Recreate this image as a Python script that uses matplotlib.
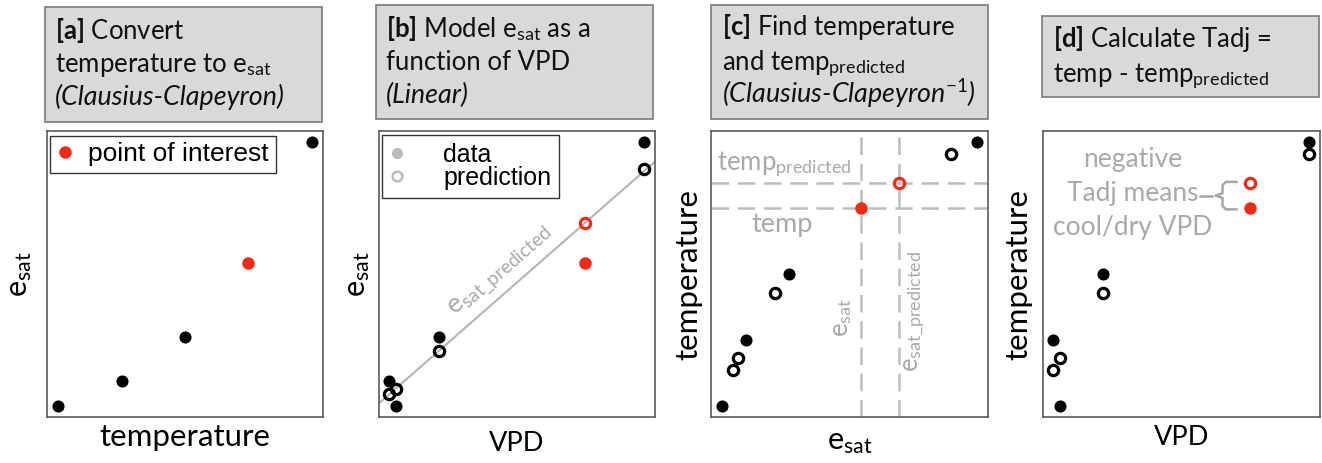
import numpy as np
import matplotlib
matplotlib.use('Agg')
import matplotlib.pyplot as plt
from matplotlib.patches import Rectangle
from matplotlib.lines import Line2D

# ---------------- data (normalised units) ----------------
temperature = [0.04, 0.27, 0.50, 0.73, 0.96]
esat = [0.04, 0.125, 0.28, 0.54, 0.96]
vpd = [0.062, 0.036, 0.217, 0.746, 0.96]
esat_pred = [0.098, 0.08, 0.23, 0.68, 0.867]
temp_pred = [0.206, 0.164, 0.434, 0.818, 0.92]
interest = 3                      # index of the point of interest
fit_vpd = [0.0, 1.0]
fit_esat = [0.048, 0.893]

title_a = [r'$\mathbf{[a]}$ Convert', r'temperature to e$_\mathrm{sat}$', '(Clausius-Clapeyron)']
title_b = [r'$\mathbf{[b]}$ Model e$_\mathrm{sat}$ as a', 'function of VPD', '(Linear)']
title_c = [r'$\mathbf{[c]}$ Find temperature', r'and temp$_\mathrm{predicted}$',
           r'(Clausius-Clapeyron$^{\mathit{-1}}$)']
title_d = [r'$\mathbf{[d]}$ Calculate Tadj =', r'temp - temp$_\mathrm{predicted}$']

# ---------------- style ----------------
plt.rcParams['font.family'] = ['Lato', 'DejaVu Sans']
plt.rcParams['mathtext.fontset'] = 'custom'
plt.rcParams['mathtext.rm'] = 'Lato'
plt.rcParams['mathtext.it'] = 'Lato:italic'
plt.rcParams['mathtext.bf'] = 'Lato:bold'

RED = '#f02a17'
GRAY_TXT = '#a9a9a9'
GRAY_LINE = '#bdbdbd'
SPINE = '#5a5a5a'
W, H = 1322, 463

fig = plt.figure(figsize=(W / 100, H / 100), dpi=100)


def fx(px):
    return px / W


def fy(py):
    return 1 - py / H


def make_axes(l, t, r, b):
    ax = fig.add_axes([fx(l), fy(b), fx(r - l), (b - t) / H])
    ax.set_xlim(0, 1)
    ax.set_ylim(0, 1)
    ax.set_xticks([])
    ax.set_yticks([])
    for s in ax.spines.values():
        s.set_color(SPINE)
        s.set_linewidth(1.2)
    return ax


def title_box(l, t, r, b, lines, x_text, baselines):
    fig.add_artist(Rectangle((fx(l), fy(b)), fx(r - l), (b - t) / H,
                             transform=fig.transFigure, facecolor='#d9d9d9',
                             edgecolor='#7a7a7a', linewidth=1.2))
    for txt, yb in zip(lines, baselines):
        italic = txt.startswith('(')
        fig.text(fx(x_text), fy(yb), txt, fontsize=19.4 if italic else 18.5,
                 va='baseline', ha='left',
                 style='italic' if italic else 'normal', color='#111111')


others = [i for i in range(len(temperature)) if i != interest]


def points(ax, x, y, filled, zorder=3):
    xo = [x[i] for i in others]
    yo = [y[i] for i in others]
    if filled:
        ax.plot(xo, yo, 'o', ms=8.7, mfc='black', mec='black', mew=0, zorder=zorder)
        ax.plot([x[interest]], [y[interest]], 'o', ms=9, mfc=RED, mec=RED, mew=0, zorder=zorder)
    else:
        ax.plot(xo, yo, 'o', ms=7.4, mfc='none', mec='black', mew=2.3, zorder=zorder)
        ax.plot([x[interest]], [y[interest]], 'o', ms=7.4, mfc='none', mec=RED, mew=2.3, zorder=zorder)


# ---------------- panel a ----------------
title_box(45, 7, 322, 122, title_a, 55, [39, 72, 105])
axa = make_axes(47, 131, 323, 417)
points(axa, temperature, esat, True)
axa.set_xlabel('temperature', fontsize=22.5, labelpad=4)
axa.set_ylabel(r'e$_\mathrm{sat}$', fontsize=22, labelpad=9)
leg = axa.legend(handles=[Line2D([], [], ls='none', marker='o', ms=9, mfc=RED, mec=RED, mew=0)],
                 labels=['point of interest'], loc='upper left', bbox_to_anchor=(0.011, 0.983),
                 borderaxespad=0, fancybox=False, edgecolor='#333333', framealpha=1,
                 prop={'family': 'Liberation Sans', 'size': 19}, handlelength=0.6,
                 handletextpad=0.6, borderpad=0.25)
leg.get_frame().set_linewidth(1.0)

# ---------------- panel b ----------------
title_box(376, 5, 653, 119, title_b, 386, [37, 70, 103])
axb = make_axes(379, 131, 655, 417)
axb.plot(fit_vpd, fit_esat, color='#b5b5b5', lw=1.5, zorder=1)
points(axb, vpd, esat, True)
points(axb, vpd, esat_pred, False)
axb.set_xlabel('VPD', fontsize=19.5, labelpad=10)
axb.set_ylabel(r'e$_\mathrm{sat}$', fontsize=22, labelpad=5)
p0 = axb.transData.transform((fit_vpd[0], fit_esat[0]))
p1 = axb.transData.transform((fit_vpd[1], fit_esat[1]))
ang = np.degrees(np.arctan2(p1[1] - p0[1], p1[0] - p0[0]))
xl = 0.485
yl = fit_esat[0] + (fit_esat[1] - fit_esat[0]) * xl
axb.annotate(r'e$_\mathrm{sat\_predicted}$', xy=(xl, yl), xytext=(-3, 4), textcoords='offset points',
             rotation=ang, rotation_mode='anchor', ha='center', va='bottom',
             fontsize=19.5, color=GRAY_TXT)
legb = axb.legend(handles=[Line2D([], [], ls='none', marker='o', ms=8, mfc='#bbbbbb', mec='#bbbbbb', mew=0),
                           Line2D([], [], ls='none', marker='o', ms=7, mfc='none', mec='#bbbbbb', mew=1.8)],
                  labels=['data', 'prediction'], loc='upper left', bbox_to_anchor=(0.011, 0.986),
                  borderaxespad=0, fancybox=False, edgecolor='#333333', framealpha=1,
                  prop={'family': 'Liberation Sans', 'size': 18}, handlelength=0.6,
                  handletextpad=1.55, borderpad=0.3, labelspacing=-0.02)
legb.get_frame().set_linewidth(1.0)

# ---------------- panel c ----------------
title_box(711, 5, 988, 119, title_c, 722, [35, 70, 103])
axc = make_axes(711, 131, 988, 417)
dash = dict(color=GRAY_LINE, lw=1.8, ls=(0, (7, 3.5)), zorder=1)
axc.axvline(esat[interest], **dash)
axc.axvline(esat_pred[interest], **dash)
axc.axhline(temperature[interest], **dash)
axc.axhline(temp_pred[interest], **dash)
points(axc, esat, temperature, True)
points(axc, esat_pred, temp_pred, False)
axc.set_xlabel(r'e$_\mathrm{sat}$', fontsize=22, labelpad=8)
axc.set_ylabel('temperature', fontsize=22.5, labelpad=6)
axc.annotate(r'temp$_\mathrm{predicted}$', xy=(0.022, temp_pred[interest]),
             xycoords=('axes fraction', 'data'), xytext=(0, 3), textcoords='offset points',
             ha='left', va='bottom', fontsize=18.5, color=GRAY_TXT)
axc.annotate('temp', xy=(0.144, temperature[interest]),
             xycoords=('axes fraction', 'data'), xytext=(0, -3), textcoords='offset points',
             ha='left', va='top', fontsize=19.5, color=GRAY_TXT)
axc.annotate(r'e$_\mathrm{sat}$', xy=(esat[interest], 0.28),
             xycoords=('data', 'axes fraction'), xytext=(-5, 0), textcoords='offset points',
             rotation=90, ha='right', va='bottom', fontsize=18.5, color=GRAY_TXT)
axc.annotate(r'e$_\mathrm{sat\_predicted}$', xy=(esat_pred[interest], 0.157),
             xycoords=('data', 'axes fraction'), xytext=(2, 0), textcoords='offset points',
             rotation=90, ha='left', va='bottom', fontsize=18.5, color=GRAY_TXT)

# ---------------- panel d ----------------
title_box(1042, 16, 1319, 97, title_d, 1053, [47, 82])
axd = make_axes(1043, 131, 1320, 417)
points(axd, vpd, temperature, True)
points(axd, vpd, temp_pred, False)
axd.set_xlabel('VPD', fontsize=19.5, labelpad=6)
axd.set_ylabel('temperature', fontsize=22.5, labelpad=8)
ytop = temp_pred[interest]
ybot = temperature[interest]
ymid = (ytop + ybot) / 2
xr = vpd[interest]
axd.text(0.325, ymid + 0.008, 'negative\nTadj means\ncool/dry VPD', ha='center', va='center',
         fontsize=19, color=GRAY_TXT, linespacing=1.45)
xv = xr - 0.098
bx = [xr - 0.043, xv + 0.012, xv, xv, xv - 0.025, xv, xv, xv + 0.012, xr - 0.043]
by = [ytop + 0.004, ytop + 0.004, ytop - 0.008, ymid + 0.008, ymid, ymid - 0.008,
      ybot + 0.008, ybot - 0.004, ybot - 0.004]
axd.plot(bx, by, color='#a6a6a6', lw=1.8, solid_joinstyle='round', solid_capstyle='butt')
axd.plot([xr - 0.178, xr - 0.135], [ymid, ymid], color='#a6a6a6', lw=1.8)

fig.savefig('out.png', dpi=100)
